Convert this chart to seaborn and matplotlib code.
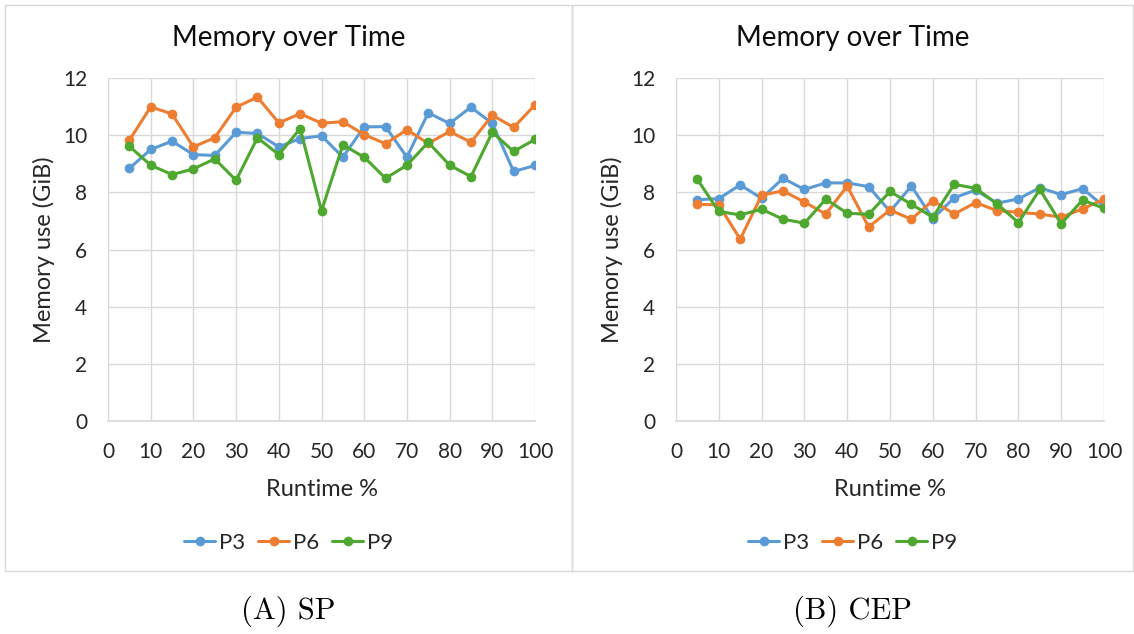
import numpy as np
import pandas as pd
import matplotlib
matplotlib.use("Agg")
import matplotlib.pyplot as plt
import seaborn as sns
from matplotlib.patches import Rectangle

runtime = [5, 10, 15, 20, 25, 30, 35, 40, 45, 50, 55, 60, 65, 70, 75, 80, 85, 90, 95, 100]

sp_p3 = [8.84, 9.50, 9.79, 9.32, 9.29, 10.10, 10.06, 9.59, 9.88, 9.98, 9.23, 10.29, 10.30, 9.23, 10.78, 10.41, 10.98, 10.41, 8.73, 8.94]
sp_p6 = [9.82, 10.99, 10.74, 9.59, 9.91, 10.98, 11.33, 10.43, 10.75, 10.42, 10.47, 10.02, 9.70, 10.19, 9.71, 10.13, 9.75, 10.70, 10.27, 11.06]
sp_p9 = [9.61, 8.95, 8.62, 8.82, 9.17, 8.42, 9.91, 9.32, 10.23, 7.35, 9.66, 9.23, 8.49, 8.95, 9.75, 8.95, 8.55, 10.10, 9.43, 9.85]

cep_p3 = [7.74, 7.78, 8.26, 7.79, 8.49, 8.10, 8.33, 8.33, 8.20, 7.33, 8.22, 7.08, 7.81, 8.08, 7.62, 7.77, 8.16, 7.92, 8.13, 7.51]
cep_p6 = [7.58, 7.56, 6.36, 7.90, 8.05, 7.66, 7.24, 8.22, 6.79, 7.38, 7.06, 7.71, 7.24, 7.64, 7.36, 7.30, 7.24, 7.13, 7.42, 7.76]
cep_p9 = [8.45, 7.33, 7.21, 7.41, 7.06, 6.92, 7.76, 7.27, 7.23, 8.03, 7.58, 7.13, 8.28, 8.14, 7.60, 6.94, 8.10, 6.90, 7.73, 7.44]

series_names = ["P3", "P6", "P9"]
palette = {"P3": "#5B9BD5", "P6": "#ED7D31", "P9": "#4EA72E"}
chart_title = "Memory over Time"
x_label = "Runtime %"
y_label = "Memory use (GiB)"
captions = ["(A) SP", "(B) CEP"]

sns.set_theme(style="white")
plt.rcParams["font.family"] = ["Lato", "DejaVu Sans"]

W, H = 1134, 634
fig = plt.figure(figsize=(W / 100, H / 100), dpi=100)


def frac_rect(x0, y0, x1, y1):
    return [x0 / W, 1 - y1 / H, (x1 - x0) / W, (y1 - y0) / H]


panels = [(5, 5, 572, 571), (572, 5, 1133, 571)]
for (x0, y0, x1, y1) in panels:
    fig.patches.append(Rectangle((x0 / W, 1 - y1 / H), (x1 - x0) / W, (y1 - y0) / H,
                                 transform=fig.transFigure, fill=False,
                                 edgecolor="#d9d9d9", linewidth=1.0))

datasets = [
    (sp_p3, sp_p6, sp_p9),
    (cep_p3, cep_p6, cep_p9),
]
axes_px = [(108, 78, 535, 421), (676, 78, 1104, 421)]
text_col = "#262626"

for i, (vals, box, pan) in enumerate(zip(datasets, axes_px, panels)):
    ax = fig.add_axes(frac_rect(*box))
    df = pd.DataFrame({
        "Runtime": runtime * 3,
        "Memory": list(vals[0]) + list(vals[1]) + list(vals[2]),
        "Series": [s for s in series_names for _ in runtime],
    })
    sns.lineplot(data=df, x="Runtime", y="Memory", hue="Series", palette=palette,
                 marker="o", markersize=7, markeredgewidth=0, linewidth=2.2,
                 ax=ax, legend=True)
    ax.set_xlim(0, 100)
    ax.set_ylim(0, 12)
    ax.set_xticks(np.arange(0, 101, 10))
    ax.set_yticks(np.arange(0, 13, 2))
    ax.grid(True, color="#d9d9d9", linewidth=1.0)
    ax.set_axisbelow(True)
    for s in ["top", "right", "left"]:
        ax.spines[s].set_visible(False)
    ax.spines["bottom"].set_color("#d9d9d9")
    ax.tick_params(axis="both", length=0, labelsize=15, colors=text_col)
    ax.tick_params(axis="x", pad=15)
    ax.tick_params(axis="y", pad=15)
    ax.set_xlabel(x_label, fontsize=17, color=text_col)
    ax.set_ylabel(y_label, fontsize=17, color=text_col)
    ax.xaxis.set_label_coords(0.5, -0.168)
    ax.yaxis.set_label_coords(-0.124, 0.5)
    pcx = (pan[0] + pan[2]) / 2
    fig.text(pcx / W, 1 - 38 / H, chart_title, fontsize=20, color="#0d0d0d",
             ha="center", va="center")
    leg = ax.legend(loc="center", bbox_to_anchor=(pcx / W, 1 - 543 / H),
                    bbox_transform=fig.transFigure, ncol=3, frameon=False,
                    fontsize=16, handlelength=1.4, handletextpad=0.15,
                    columnspacing=0.6)
    for t in leg.get_texts():
        t.set_color(text_col)
    fig.text(pcx / W, 1 - 611 / H, captions[i], fontsize=22, family="cmr10",
             ha="center", va="center", color="black")

fig.savefig("out.png", dpi=100)
